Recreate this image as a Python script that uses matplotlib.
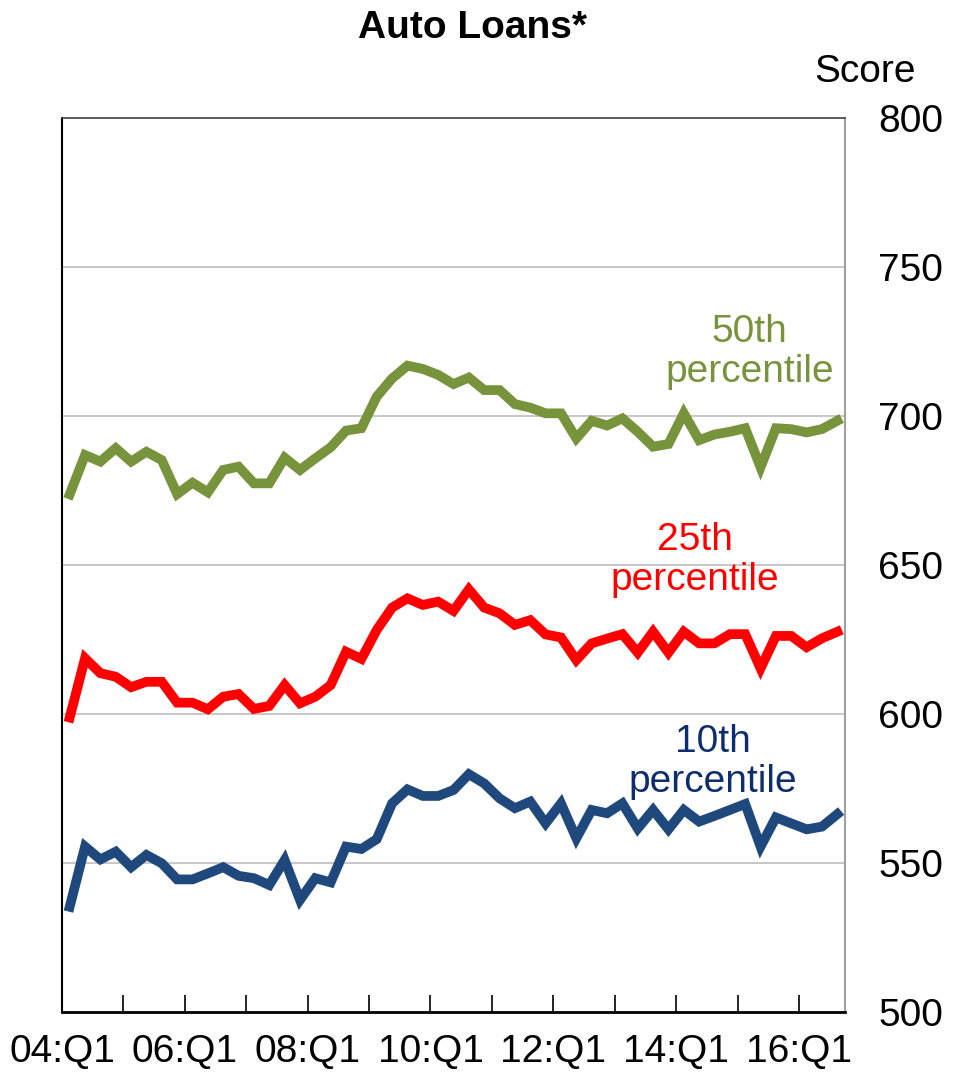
import matplotlib
matplotlib.use("Agg")
import matplotlib.pyplot as plt
import numpy as np

plt.rcParams["font.family"] = ["Liberation Sans", "DejaVu Sans"]

# quarterly credit scores, 2004Q1 .. 2016Q3
p50 = [673.7, 686.9, 684.7, 689.2, 684.7, 688.0, 685.2, 673.8, 677.6, 674.4,
       681.9, 683.0, 677.4, 677.4, 686.0, 681.9, 685.8, 689.5, 695.1, 695.9,
       706.5, 712.6, 716.9, 715.8, 713.8, 710.7, 712.9, 708.7, 708.7, 704.0,
       702.8, 700.9, 700.9, 692.5, 698.4, 696.8, 699.2, 694.7, 689.7, 690.6,
       700.9, 691.9, 693.8, 694.7, 695.9, 682.8, 695.9, 695.6, 694.5, 695.6,
       698.4]
p25 = [598.8, 618.7, 613.7, 612.5, 609.0, 610.8, 610.8, 603.8, 603.8, 601.6,
       605.8, 606.7, 601.7, 602.7, 609.7, 603.6, 605.8, 609.7, 620.9, 618.5,
       628.2, 635.7, 638.8, 636.6, 637.7, 634.6, 641.8, 635.7, 633.8, 629.9,
       631.5, 626.7, 625.7, 618.1, 623.7, 625.3, 626.8, 620.6, 627.6, 620.6,
       627.6, 623.7, 623.7, 626.8, 626.8, 615.3, 626.2, 626.2, 622.4, 625.4,
       627.6]
p10 = [535.3, 555.5, 551.2, 553.8, 548.6, 552.7, 549.9, 544.5, 544.5, 546.5,
       548.6, 545.7, 544.9, 542.6, 551.0, 537.6, 544.9, 543.5, 555.5, 554.7,
       558.0, 570.0, 574.7, 572.5, 572.5, 574.5, 579.8, 576.7, 571.7, 568.4,
       570.6, 563.3, 570.0, 558.3, 567.8, 566.7, 570.0, 561.6, 567.8, 561.3,
       567.8, 563.9, 565.8, 567.8, 569.8, 555.5, 565.3, 563.3, 561.3, 562.2,
       566.4]
year_labels = ["04:Q1", "06:Q1", "08:Q1", "10:Q1", "12:Q1", "14:Q1", "16:Q1"]
y_ticks = [500, 550, 600, 650, 700, 750, 800]

GREEN = "#77933C"
RED = "#FF0000"
BLUE = "#1F497D"
NAVY = "#0E2D6D"

fig = plt.figure(figsize=(9.58, 10.75), dpi=100)
ax = fig.add_axes([62 / 958, 1 - 1012 / 1075, (845 - 62) / 958, (1012 - 118) / 1075])

x = np.arange(len(p50))
ax.plot(x, p50, color=GREEN, lw=7, solid_joinstyle="miter", zorder=3)
ax.plot(x, p25, color=RED, lw=7, solid_joinstyle="miter", zorder=3)
ax.plot(x, p10, color=BLUE, lw=7, solid_joinstyle="miter", zorder=3)

ax.set_xlim(-0.5, len(p50) - 0.5)
ax.set_ylim(500, 800)

# gridlines
for v in y_ticks[1:-1]:
    ax.axhline(v, color="#BEBEBE", lw=1.2, zorder=1)

ax.yaxis.tick_right()
ax.set_yticks(y_ticks)
ax.set_yticklabels([str(v) for v in y_ticks])
ax.tick_params(axis="y", length=0, pad=24, labelsize=28)

tick_pos = np.arange(-0.5, 48, 4)
ax.set_xticks(tick_pos)
ax.set_xticklabels([year_labels[i // 2] if i % 2 == 0 else "" for i in range(len(tick_pos))])
ax.tick_params(axis="x", direction="in", length=12, width=1.2, pad=16, labelsize=28)

ax.spines["left"].set_color("black")
ax.spines["left"].set_linewidth(1.5)
ax.spines["bottom"].set_color("black")
ax.spines["bottom"].set_linewidth(2)
ax.spines["top"].set_color("#404040")
ax.spines["top"].set_linewidth(1.2)
ax.spines["right"].set_color("#A0A0A0")
ax.spines["right"].set_linewidth(1.5)

ax.text(44.3, 721.5, "50th\npercentile", color=GREEN, fontsize=28, ha="center", va="center", linespacing=1.15)
ax.text(40.7, 651.7, "25th\npercentile", color=RED, fontsize=28, ha="center", va="center", linespacing=1.15)
ax.text(41.9, 583.9, "10th\npercentile", color=NAVY, fontsize=28, ha="center", va="center", linespacing=1.15)

fig.text(473 / 958, 1 - 28 / 1075, "Auto Loans*", fontsize=28, fontweight="bold", ha="center", va="center")
fig.text(865 / 958, 1 - 72 / 1075, "Score", fontsize=28, ha="center", va="center")

fig.savefig("out.png", dpi=100)
